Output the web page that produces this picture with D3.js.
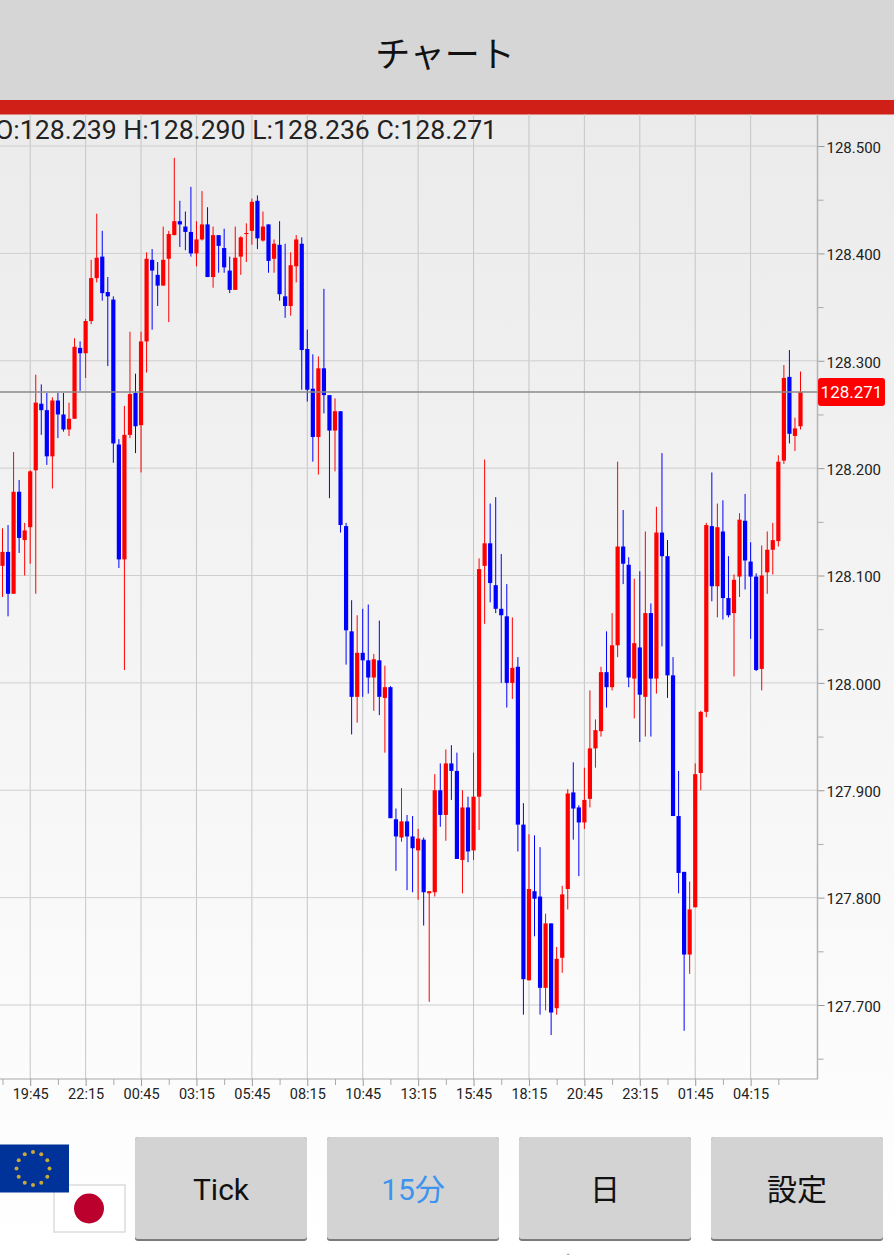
<!DOCTYPE html>
<html>
<head>
<meta charset="utf-8">
<script src="https://d3js.org/d3.v7.min.js"></script>
<style>
  html, body { margin: 0; padding: 0; background: #fff; overflow: hidden; }
  svg { display: block; }
  text { font-family: Roboto, "Noto Sans CJK JP", sans-serif; }
  .jp { font-family: "Noto Sans CJK JP", sans-serif; }
</style>
</head>
<body>
<svg id="svg" width="894" height="1255"></svg>
<script>
// 15 minute bars, one value per bar
const opens = [128.109,128.122,128.083,128.178,128.133,128.145,128.198,128.260,128.254,128.211,128.263,128.250,128.236,128.246,128.312,128.307,128.337,128.377,128.397,128.364,128.357,128.222,128.115,128.231,128.270,128.240,128.318,128.394,128.380,128.370,128.395,128.417,128.430,128.425,128.420,128.400,128.413,128.427,128.378,128.417,128.405,128.384,128.366,128.397,128.418,128.421,128.449,128.412,128.427,128.395,128.408,128.360,128.351,128.388,128.409,128.311,128.274,128.229,128.293,128.268,128.235,128.253,128.146,128.048,127.987,128.028,128.021,128.005,128.021,127.986,127.996,127.873,127.856,127.871,127.857,127.844,127.854,127.804,127.805,127.900,127.877,127.925,127.918,127.835,127.884,127.844,127.894,128.109,128.130,128.091,128.069,128.062,128.000,128.015,127.868,127.723,127.806,127.801,127.716,127.776,127.697,127.744,127.808,127.898,127.884,127.870,127.892,127.939,127.955,128.010,127.996,128.035,128.127,128.110,128.004,128.033,127.987,128.065,128.004,128.140,128.118,128.007,127.876,127.824,127.747,127.791,127.916,127.973,128.146,128.090,128.141,128.079,128.065,128.099,128.151,128.113,128.099,128.013,128.103,128.124,128.132,128.207,128.285,128.230,128.239]
const highs = [128.144,128.147,128.215,128.189,128.149,128.198,128.287,128.278,128.270,128.266,128.270,128.270,128.261,128.321,128.318,128.339,128.394,128.437,128.421,128.378,128.360,128.227,128.258,128.327,128.288,128.327,128.401,128.404,128.392,128.425,128.421,128.489,128.449,128.439,128.462,128.430,128.458,128.443,128.425,128.417,128.423,128.397,128.425,128.416,128.428,128.451,128.454,128.439,128.427,128.413,128.430,128.409,128.401,128.417,128.415,128.329,128.306,128.304,128.367,128.268,128.265,128.253,128.149,128.077,128.063,128.069,128.073,128.027,128.058,128.016,127.997,127.883,127.902,127.877,127.876,127.864,127.856,127.806,127.915,127.925,127.938,127.942,127.935,127.900,127.894,127.935,128.116,128.208,128.167,128.173,128.120,128.092,128.061,128.024,127.888,127.859,127.858,127.847,127.785,127.776,127.754,127.811,127.901,127.926,127.886,127.921,127.993,127.966,128.015,128.048,128.065,128.206,128.161,128.117,128.097,128.104,128.141,128.074,128.164,128.214,128.133,128.024,127.918,127.824,127.815,127.925,127.974,128.149,128.196,128.167,128.170,128.118,128.101,128.158,128.176,128.131,128.102,128.128,128.141,128.149,128.212,128.296,128.310,128.247,128.290]
const lows = [128.080,128.062,128.083,128.121,128.100,128.111,128.083,128.231,128.203,128.181,128.228,128.234,128.230,128.246,128.272,128.284,128.334,128.373,128.356,128.295,128.205,128.107,128.012,128.228,128.214,128.196,128.289,128.329,128.351,128.370,128.336,128.417,128.406,128.403,128.397,128.388,128.412,128.378,128.368,128.382,128.382,128.363,128.366,128.380,128.392,128.408,128.404,128.411,128.382,128.382,128.356,128.340,128.342,128.373,128.273,128.262,128.206,128.194,128.251,128.172,128.197,128.140,128.017,127.952,127.963,127.987,127.990,127.974,127.970,127.935,127.874,127.825,127.852,127.807,127.805,127.798,127.774,127.703,127.801,127.866,127.853,127.891,127.836,127.804,127.833,127.835,127.863,128.055,128.075,128.065,128.000,127.977,127.985,127.843,127.691,127.723,127.764,127.691,127.695,127.672,127.691,127.730,127.789,127.854,127.820,127.864,127.884,127.921,127.950,127.977,127.993,128.024,128.092,127.996,127.967,127.945,127.950,127.950,127.990,128.034,127.986,127.876,127.804,127.676,127.729,127.791,127.900,127.968,128.076,128.061,128.059,128.061,128.006,128.080,128.087,128.041,128.011,127.993,128.083,128.101,128.127,128.204,128.223,128.216,128.236]
const closes = [128.122,128.083,128.178,128.135,128.142,128.197,128.261,128.254,128.211,128.263,128.250,128.236,128.246,128.313,128.307,128.337,128.377,128.396,128.363,128.360,128.223,128.115,128.231,128.269,128.239,128.318,128.395,128.384,128.370,128.394,128.418,128.430,128.427,128.420,128.400,128.413,128.427,128.378,128.417,128.407,128.387,128.366,128.396,128.415,128.419,128.448,128.414,128.425,128.393,128.409,128.362,128.351,128.389,128.413,128.310,128.273,128.229,128.293,128.268,128.235,128.253,128.147,128.049,127.987,128.028,128.021,128.005,128.022,127.987,127.996,127.874,127.857,127.871,127.857,127.846,127.855,127.805,127.806,127.900,127.877,127.925,127.918,127.836,127.884,127.843,127.894,128.106,128.130,128.093,128.069,128.063,128.000,128.014,127.868,127.724,127.808,127.799,127.716,127.776,127.693,127.743,127.803,127.897,127.883,127.870,127.891,127.939,127.956,128.010,127.996,128.035,128.127,128.111,128.005,128.037,127.989,128.065,128.004,128.140,128.118,128.007,127.876,127.823,127.747,127.789,127.915,127.973,128.147,128.090,128.145,128.079,128.063,128.096,128.152,128.114,128.099,128.012,128.100,128.124,128.133,128.206,128.284,128.232,128.237,128.271]

const timeLabels = ['19:45','22:15','00:45','03:15','05:45','08:15','10:45','13:15','15:45','18:15','20:45','23:15','01:45','04:15']
const priceLabels = [128.5,128.4,128.3,128.2,128.1,128.0,127.9,127.8,127.7]
const lastPrice = 128.271
const buttons = ['Tick','15分','日','設定']

const bars = opens.map((o, i) => ({ i, o, h: highs[i], l: lows[i], c: closes[i] }))
const labelledBars = timeLabels.map((d, i) => 5 + i * 10)
const minorBars = d3.range(0, 150, 10)
const minorPrices = [128.45,128.35,128.25,128.15,128.05,127.95,127.85,127.75,127.65]

const plotRight = 817.5
const plotTop = 114
const plotBottom = 1079

const xScale = d3.scaleLinear().domain([0, 144]).range([2.5, 800.5])
const yScale = d3.scaleLinear().domain([128.4, 127.7]).range([253.4, 1005])

const svg = d3.select('#svg')

const defs = svg.append('defs')
const bg = defs.append('linearGradient').attr('id', 'bg').attr('x1', 0).attr('x2', 0).attr('y1', 0).attr('y2', 1)
bg.append('stop').attr('offset', 0).attr('stop-color', '#ebebeb')
bg.append('stop').attr('offset', 1).attr('stop-color', '#ffffff')

svg.append('rect').attr('x', 0).attr('y', 114).attr('width', 894).attr('height', 1141).attr('fill', 'url(#bg)')

// header
svg.append('rect').attr('width', 894).attr('height', 100).attr('fill', '#d6d6d6')
svg.append('rect').attr('y', 100).attr('width', 894).attr('height', 14.5).attr('fill', '#d01f16')
svg.append('text').attr('class', 'jp').attr('x', 445).attr('y', 67)
  .attr('text-anchor', 'middle').attr('font-size', 35).attr('fill', '#111').text('チャート')

// grid
svg.append('g').selectAll('line').data(labelledBars).enter().append('line')
  .attr('x1', d => xScale(d)).attr('x2', d => xScale(d))
  .attr('y1', plotTop).attr('y2', plotBottom)
  .attr('stroke', '#c6c6c6').attr('stroke-width', 1)
svg.append('g').selectAll('line').data(priceLabels).enter().append('line')
  .attr('x1', 0).attr('x2', plotRight)
  .attr('y1', d => yScale(d)).attr('y2', d => yScale(d))
  .attr('stroke', '#cfcfcf').attr('stroke-width', 1)

// axes
const axisRight = d3.axisRight(yScale).tickValues(priceLabels).tickFormat(d3.format('.3f')).tickSize(7).tickPadding(2)
const yAxis = svg.append('g').attr('transform', `translate(${plotRight},0)`).call(axisRight)
yAxis.select('.domain').remove()
yAxis.selectAll('line').attr('stroke', '#999')
yAxis.selectAll('text').attr('font-size', 15).attr('fill', '#222').attr('font-family', 'Roboto').attr('dy', '0.42em')

const minorY = d3.axisRight(yScale).tickValues(minorPrices).tickFormat('').tickSize(6)
svg.append('g').attr('transform', `translate(${plotRight},0)`).call(minorY)
  .call(g => g.select('.domain').remove())
  .selectAll('line').attr('stroke', '#aaa')

const axisBottom = d3.axisBottom(xScale).tickValues(labelledBars)
  .tickFormat((d, i) => timeLabels[i]).tickSize(7).tickPadding(3)
const xAxis = svg.append('g').attr('transform', `translate(0,${plotBottom})`).call(axisBottom)
xAxis.select('.domain').remove()
xAxis.selectAll('line').attr('stroke', '#999')
xAxis.selectAll('text').attr('font-size', 14.5).attr('fill', '#222').attr('font-family', 'Roboto')

const minorX = d3.axisBottom(xScale).tickValues(minorBars.filter(d => d <= 144)).tickFormat('').tickSize(6)
svg.append('g').attr('transform', `translate(0,${plotBottom})`).call(minorX)
  .call(g => g.select('.domain').remove())
  .selectAll('line').attr('stroke', '#aaa')

svg.append('line').attr('x1', 0).attr('x2', plotRight + 0.5).attr('y1', plotBottom).attr('y2', plotBottom)
  .attr('stroke', '#a8a8a8').attr('stroke-width', 1)
svg.append('line').attr('x1', plotRight).attr('x2', plotRight).attr('y1', plotTop).attr('y2', plotBottom)
  .attr('stroke', '#b4b4b4').attr('stroke-width', 1.5)

// candles: red up, blue down
const colour = d => d.c >= d.o ? '#ff0000' : '#0000ff'
const candle = svg.append('g').selectAll('g').data(bars).enter().append('g')
candle.append('line')
  .attr('x1', d => xScale(d.i)).attr('x2', d => xScale(d.i))
  .attr('y1', d => yScale(d.h)).attr('y2', d => yScale(d.l))
  .attr('stroke', colour).attr('stroke-width', 1)
candle.append('rect')
  .attr('x', d => xScale(d.i) - 2.1).attr('width', 4.2)
  .attr('y', d => yScale(Math.max(d.o, d.c)))
  .attr('height', d => Math.max(1, Math.abs(yScale(d.o) - yScale(d.c))))
  .attr('fill', colour)

// current price
svg.append('line').attr('x1', 0).attr('x2', plotRight).attr('y1', yScale(lastPrice)).attr('y2', yScale(lastPrice))
  .attr('stroke', '#8a8a8a').attr('stroke-width', 1.5)
svg.append('rect').attr('x', 818).attr('y', yScale(lastPrice) - 14).attr('width', 67).attr('height', 28).attr('rx', 3)
  .attr('fill', '#ff0000')
svg.append('text').attr('x', 851.5).attr('y', yScale(lastPrice) + 6).attr('text-anchor', 'middle')
  .attr('font-size', 17).attr('fill', '#fff').text(d3.format('.3f')(lastPrice))

// OHLC readout
const last = bars[bars.length - 1]
svg.append('text').attr('x', -5).attr('y', 138.5).attr('font-size', 26.65).attr('fill', '#222')
  .text(`O:${last.o.toFixed(3)} H:${last.h.toFixed(3)} L:${last.l.toFixed(3)} C:${last.c.toFixed(3)}`)

// flags
svg.append('rect').attr('x', 54).attr('y', 1185).attr('width', 71).attr('height', 47)
  .attr('fill', '#fff').attr('stroke', '#dcdcdc').attr('stroke-width', 1.5)
svg.append('circle').attr('cx', 89).attr('cy', 1208.5).attr('r', 15).attr('fill', '#bc002d')
svg.append('rect').attr('x', 0).attr('y', 1144.5).attr('width', 69).attr('height', 48).attr('fill', '#003399')
svg.append('g').selectAll('circle').data(d3.range(12)).enter().append('circle')
  .attr('cx', d => 33 + 16.5 * Math.sin(d * Math.PI / 6))
  .attr('cy', d => 1168.5 - 16.5 * Math.cos(d * Math.PI / 6))
  .attr('r', 2).attr('fill', '#c9a93a')

// buttons
const buttonX = d3.scaleLinear().domain([0, 3]).range([135, 711])
const button = svg.append('g').selectAll('g').data(buttons).enter().append('g')
button.append('rect')
  .attr('x', (d, i) => buttonX(i)).attr('y', 1137).attr('width', 172).attr('height', 104).attr('rx', 3)
  .attr('fill', '#7b7b7b')
button.append('rect')
  .attr('x', (d, i) => buttonX(i)).attr('y', 1137).attr('width', 172).attr('height', 102).attr('rx', 3)
  .attr('fill', '#d3d3d3')
button.append('text')
  .attr('x', (d, i) => buttonX(i) + 86).attr('y', 1199.5)
  .attr('text-anchor', 'middle').attr('font-size', 30)
  .attr('fill', d => d === '15分' ? '#3d94ee' : '#111').text(d => d)

// cut off at the bottom of the screen
svg.append('text').attr('class', 'jp').attr('x', 530).attr('y', 1279).attr('text-anchor', 'middle')
  .attr('font-size', 30).attr('fill', '#a9a9a9').text('画面回転')
</script>
</body>
</html>
